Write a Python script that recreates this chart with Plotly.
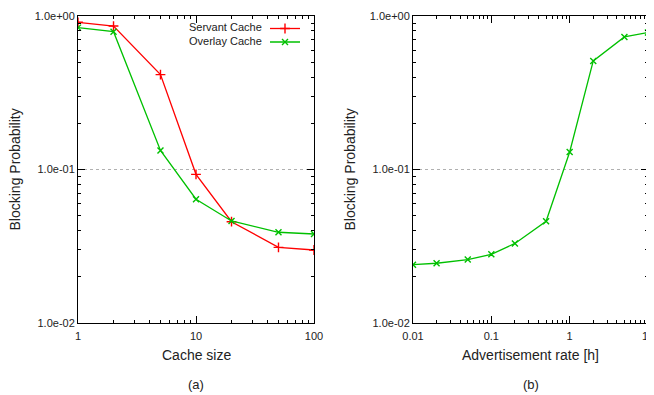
import plotly.graph_objects as go
from plotly.subplots import make_subplots

# panel (a): blocking probability vs cache size
cache_size = [1, 2, 5, 10, 20, 50, 100]
servant_cache = [0.91, 0.86, 0.415, 0.093, 0.0457, 0.0311, 0.0299]
overlay_cache = [0.84, 0.79, 0.133, 0.064, 0.0462, 0.039, 0.038]

# panel (b): blocking probability vs advertisement rate
adv_rate = [0.01, 0.02, 0.05, 0.1, 0.2, 0.5, 1, 2, 5, 10]
overlay_adv = [0.024, 0.0245, 0.0259, 0.028, 0.033, 0.046, 0.13, 0.51, 0.73, 0.78]

y_alias = {"1.0e\u22122": "1.0e-02", "1.0e\u22121": "1.0e-01", "1.0e+0": "1.0e+00"}

RED = "#ff0000"
GREEN = "#00c000"
W, H = 654, 395
OFF = 8  # page body margin shifts the figure by this much


def px(x):
    return (x - OFF) / W


def py(y):
    return 1 - (y - OFF) / H


def minor_vals(lo, hi):
    # 2..9 within each decade, gnuplot-like minor ticks
    out = []
    d = lo
    while d < hi * 0.999:
        out += [d * k for k in range(2, 10)]
        d *= 10
    return out


fig = make_subplots(rows=1, cols=2)

fig.add_trace(go.Scatter(x=cache_size, y=servant_cache, mode="lines+markers",
                         name=" ", legend="legend", line=dict(color=RED, width=1.3),
                         marker=dict(symbol="cross-thin", size=7,
                                     line=dict(color=RED, width=1.4))),
              row=1, col=1)
fig.add_trace(go.Scatter(x=cache_size, y=overlay_cache, mode="lines+markers",
                         name=" ", legend="legend2", line=dict(color=GREEN, width=1.3),
                         marker=dict(symbol="x-thin", size=6,
                                     line=dict(color=GREEN, width=1.4))),
              row=1, col=1)
fig.add_trace(go.Scatter(x=adv_rate, y=overlay_adv, mode="lines+markers",
                         showlegend=False, line=dict(color=GREEN, width=1.3),
                         marker=dict(symbol="x-thin", size=6,
                                     line=dict(color=GREEN, width=1.4))),
              row=1, col=2)

# invisible copies on overlay axes that only carry the minor ticks
for xs, ys, xa, ya in [(cache_size, servant_cache, "x3", "y3"),
                       (adv_rate, overlay_adv, "x4", "y4")]:
    fig.add_trace(go.Scatter(x=xs, y=ys, xaxis=xa, yaxis=ya, mode="lines",
                             opacity=0, showlegend=False, hoverinfo="skip"))

font = dict(family="Liberation Sans, Arial, sans-serif", color="#222")
axis_common = dict(type="log", showline=True, linecolor="black", linewidth=1,
                   mirror="allticks", ticks="inside", ticklen=7,
                   tickcolor="black", tickfont=dict(size=11, **font),
                   zeroline=False, automargin=False, dtick=1)

fig.update_xaxes(**axis_common, showgrid=False, ticklabelstandoff=3)
fig.update_yaxes(**axis_common, showgrid=True, gridcolor="#b0b0b0",
                 griddash="dot", gridwidth=1,
                 tickformat=".1e", labelalias=y_alias,
                 range=[-2, 0], domain=[py(323), py(16)])

fig.update_xaxes(range=[0, 2], domain=[px(78), px(314)], row=1, col=1)
fig.update_xaxes(range=[-2, 1], domain=[px(413), px(648)], row=1, col=2)

minor_axis = dict(type="log", ticks="inside", ticklen=3, tickcolor="black",
                  mirror="allticks", showline=False, showgrid=False,
                  showticklabels=False, zeroline=False, automargin=False,
                  tickmode="array")
fig.update_layout(
    xaxis3=dict(overlaying="x", anchor="y", range=[0, 2],
                tickvals=minor_vals(1, 100), **minor_axis),
    yaxis3=dict(overlaying="y", anchor="x", range=[-2, 0],
                tickvals=minor_vals(0.01, 1), **minor_axis),
    xaxis4=dict(overlaying="x2", anchor="y2", range=[-2, 1],
                tickvals=minor_vals(0.01, 10), **minor_axis),
    yaxis4=dict(overlaying="y2", anchor="x2", range=[-2, 0],
                tickvals=minor_vals(0.01, 1), **minor_axis),
)

ann = dict(xref="paper", yref="paper", showarrow=False,
           xanchor="center", yanchor="middle")
for x0, x1, xt, xc, sub in [(78, 314, "Cache size", 15, "(a)"),
                            (413, 648, "Advertisement rate [h]", 350, "(b)")]:
    mid = px((x0 + x1) / 2)
    fig.add_annotation(text=xt, x=mid, y=py(355), font=dict(size=14, **font), **ann)
    fig.add_annotation(text=sub, x=mid, y=py(384), font=dict(size=13, **font), **ann)
    fig.add_annotation(text="Blocking Probability", x=px(xc), y=py((16 + 323) / 2),
                       textangle=-90, font=dict(size=14, **font), **ann)

# legend labels sit left of the line samples, gnuplot style
for txt, yp in [("Servant Cache", 27), ("Overlay Cache", 40.5)]:
    fig.add_annotation(text=txt, x=px(264), y=py(yp), xref="paper", yref="paper",
                       xanchor="right", yanchor="middle", showarrow=False,
                       font=dict(size=11, **font))

leg = dict(xanchor="left", yanchor="top", bgcolor="rgba(0,0,0,0)",
           itemwidth=30, font=dict(size=8, **font))
fig.update_layout(width=W, height=H, margin=dict(l=0, r=0, t=0, b=0),
                  plot_bgcolor="white", paper_bgcolor="white",
                  legend=dict(x=px(265), y=py(14), **leg),
                  legend2=dict(x=px(265), y=py(27.5), **leg))

fig.write_html("out.html")
